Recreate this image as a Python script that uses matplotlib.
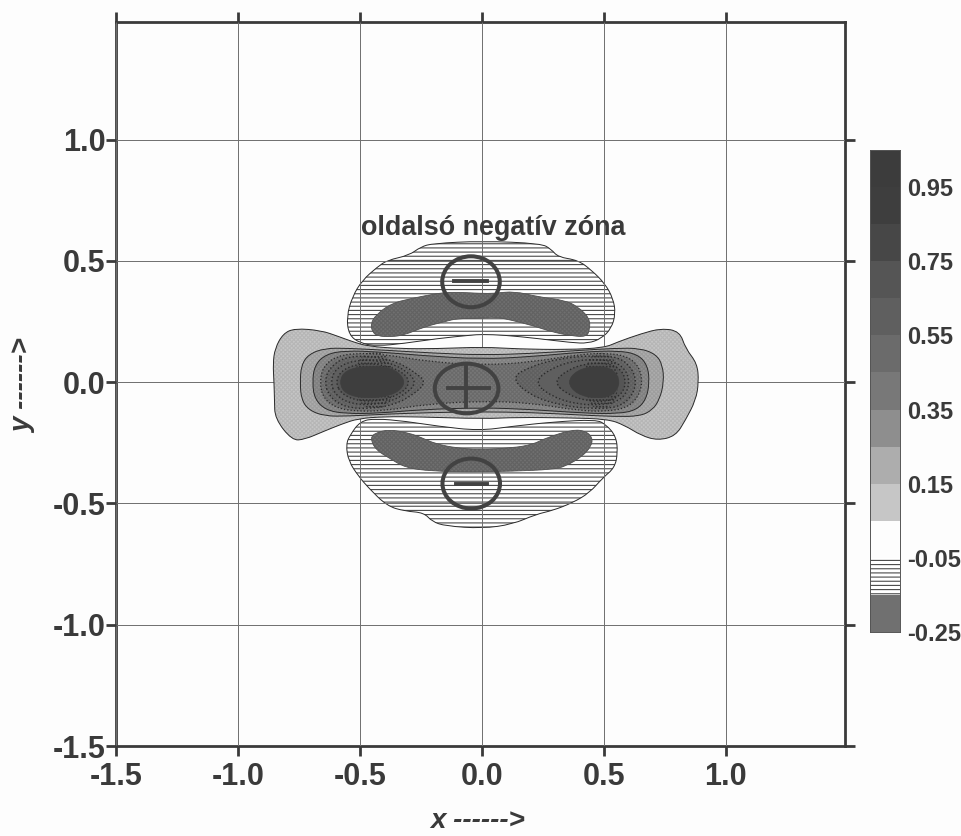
import numpy as np
import matplotlib
matplotlib.use('Agg')
import matplotlib.pyplot as plt
from matplotlib.patches import Ellipse, PathPatch
from matplotlib.path import Path

plt.rcParams['font.family'] = ['Liberation Sans', 'DejaVu Sans']
plt.rcParams['hatch.linewidth'] = 0.8

INK = '#3a3a3a'

# contour levels
levels = [-0.25, -0.15, -0.05, 0.05, 0.15, 0.25, 0.35, 0.45, 0.55, 0.65, 0.75, 0.85, 0.95, 1.05]
greys = ['#707070', '#ffffff', '#fdfdfd', '#c6c6c6', '#adadad', '#8e8e8e', '#787878',
         '#6b6b6b', '#5f5f5f', '#555555', '#474747', '#3e3e3e', '#3c3c3c']
bar_labels = [-0.25, -0.05, 0.15, 0.35, 0.55, 0.75, 0.95]

x_ticks = [-1.5, -1.0, -0.5, 0.0, 0.5, 1.0]
y_ticks = [-1.5, -1.0, -0.5, 0.0, 0.5, 1.0]

# negative lobes
top_outer = [(-0.25, 0.558), (-0.20, 0.572), (0.0, 0.582), (0.244, 0.572), (0.285, 0.548), (0.313, 0.516),
             (0.395, 0.503), (0.45, 0.462), (0.505, 0.407), (0.539, 0.345), (0.549, 0.283), (0.532, 0.222),
             (0.491, 0.180), (0.436, 0.160), (0.368, 0.163), (0.230, 0.180), (0.093, 0.194), (0.0, 0.197),
             (-0.044, 0.194), (-0.181, 0.180), (-0.318, 0.160), (-0.428, 0.149), (-0.497, 0.160), (-0.545, 0.194),
             (-0.554, 0.270), (-0.531, 0.352), (-0.490, 0.420), (-0.428, 0.475), (-0.387, 0.503), (-0.298, 0.523)]
top_dark = [(-0.455, 0.242), (-0.435, 0.276), (-0.373, 0.324), (-0.291, 0.345), (-0.181, 0.366), (-0.126, 0.372),
            (-0.003, 0.366), (0.052, 0.366), (0.134, 0.375), (0.230, 0.352), (0.340, 0.338), (0.395, 0.311),
            (0.443, 0.263), (0.443, 0.215), (0.429, 0.187), (0.368, 0.191), (0.285, 0.208), (0.217, 0.231),
            (0.121, 0.256), (0.052, 0.270), (-0.003, 0.263), (-0.099, 0.263), (-0.154, 0.249), (-0.236, 0.228),
            (-0.318, 0.194), (-0.373, 0.187), (-0.428, 0.190), (-0.449, 0.208)]
bottom_outer = [(-0.498, -0.161), (-0.436, -0.150), (-0.313, -0.161), (-0.176, -0.182), (-0.011, -0.200),
                (0.126, -0.182), (0.291, -0.164), (0.469, -0.154), (0.510, -0.175), (0.551, -0.223), (0.558, -0.291),
                (0.545, -0.353), (0.497, -0.394), (0.442, -0.456), (0.373, -0.497), (0.291, -0.529), (0.222, -0.545),
                (0.126, -0.586), (0.003, -0.603), (-0.148, -0.593), (-0.203, -0.575), (-0.237, -0.538), (-0.313, -0.532),
                (-0.388, -0.511), (-0.464, -0.436), (-0.505, -0.388), (-0.546, -0.326), (-0.557, -0.257), (-0.539, -0.216)]
bottom_dark = [(-0.457, -0.230), (-0.436, -0.209), (-0.381, -0.195), (-0.299, -0.209), (-0.244, -0.230),
               (-0.189, -0.254), (-0.107, -0.271), (-0.011, -0.278), (0.126, -0.271), (0.209, -0.257), (0.263, -0.230),
               (0.373, -0.195), (0.428, -0.202), (0.455, -0.230), (0.449, -0.264), (0.414, -0.305), (0.346, -0.346),
               (0.291, -0.360), (0.126, -0.367), (-0.038, -0.370), (-0.203, -0.367), (-0.313, -0.353), (-0.381, -0.312),
               (-0.436, -0.278)]

# positive contours, outermost first
pos_005 = [(0.0075, 0.145), (-0.191, 0.138), (-0.329, 0.138), (-0.466, 0.148), (-0.527, 0.166), (-0.589, 0.189),
           (-0.658, 0.213), (-0.767, 0.222), (-0.815, 0.200), (-0.848, 0.139), (-0.856, 0.077), (-0.852, 0.0),
           (-0.850, -0.074), (-0.848, -0.150), (-0.778, -0.240), (-0.726, -0.236), (-0.651, -0.204), (-0.575, -0.173),
           (-0.507, -0.150), (-0.397, -0.142), (-0.260, -0.143), (0.0075, -0.151), (0.146, -0.145), (0.352, -0.147),
           (0.516, -0.152), (0.585, -0.177), (0.654, -0.220), (0.722, -0.240), (0.795, -0.222), (0.836, -0.156),
           (0.878, -0.074), (0.890, 0.0), (0.884, 0.077), (0.836, 0.139), (0.812, 0.210), (0.736, 0.222),
           (0.654, 0.200), (0.558, 0.166), (0.503, 0.142), (0.352, 0.134), (0.146, 0.137)]
pos_015 = [(-0.745, 0), (-0.74, 0.07), (-0.71, 0.115), (-0.644, 0.14), (-0.55, 0.14), (-0.40, 0.132), (-0.2, 0.12),
           (0, 0.112), (0.2, 0.118), (0.4, 0.131), (0.55, 0.14), (0.649, 0.14), (0.715, 0.115), (0.742, 0.07),
           (0.747, 0), (0.73, -0.07), (0.70, -0.115), (0.649, -0.14), (0.55, -0.142), (0.4, -0.135), (0.2, -0.125),
           (0, -0.122), (-0.2, -0.125), (-0.4, -0.132), (-0.55, -0.14), (-0.644, -0.14), (-0.71, -0.115), (-0.74, -0.07)]
pos_025 = [(-0.695, 0), (-0.685, 0.07), (-0.64, 0.115), (-0.56, 0.13), (-0.42, 0.125), (-0.25, 0.11), (0, 0.095),
           (0.2, 0.105), (0.42, 0.125), (0.56, 0.13), (0.64, 0.115), (0.68, 0.07), (0.688, 0), (0.675, -0.07),
           (0.635, -0.115), (0.56, -0.13), (0.42, -0.128), (0.2, -0.112), (0, -0.105), (-0.25, -0.113), (-0.42, -0.128),
           (-0.56, -0.13), (-0.64, -0.115), (-0.685, -0.07)]
pos_035 = [(-0.665, 0), (-0.65, 0.065), (-0.6, 0.105), (-0.52, 0.12), (-0.40, 0.115), (-0.22, 0.085), (0, 0.07),
           (0.2, 0.082), (0.40, 0.115), (0.52, 0.12), (0.6, 0.105), (0.645, 0.065), (0.66, 0), (0.64, -0.065),
           (0.595, -0.105), (0.52, -0.12), (0.40, -0.118), (0.2, -0.085), (0, -0.078), (-0.22, -0.09), (-0.40, -0.118),
           (-0.52, -0.12), (-0.6, -0.105), (-0.65, -0.065)]
pos_045_l = [(-0.645, 0), (-0.625, 0.06), (-0.56, 0.105), (-0.45, 0.108), (-0.35, 0.085), (-0.28, 0.045), (-0.225, 0),
             (-0.28, -0.05), (-0.35, -0.09), (-0.45, -0.11), (-0.56, -0.105), (-0.625, -0.06)]
pos_045_r = [(0.12, 0.018), (0.2, 0.065), (0.32, 0.098), (0.45, 0.11), (0.56, 0.105), (0.615, 0.06), (0.635, 0),
             (0.615, -0.06), (0.56, -0.105), (0.45, -0.11), (0.32, -0.095), (0.2, -0.055)]
pos_055_l = [(-0.62, 0), (-0.6, 0.055), (-0.53, 0.09), (-0.42, 0.09), (-0.33, 0.062), (-0.26, 0), (-0.33, -0.062),
             (-0.42, -0.092), (-0.53, -0.092), (-0.6, -0.055)]
pos_055_r = [(0.215, 0), (0.28, 0.055), (0.38, 0.09), (0.5, 0.095), (0.58, 0.07), (0.61, 0), (0.58, -0.07),
             (0.5, -0.095), (0.38, -0.09), (0.28, -0.055)]
pos_065_l = [(-0.6, 0), (-0.575, 0.05), (-0.5, 0.078), (-0.4, 0.072), (-0.32, 0.04), (-0.295, 0), (-0.32, -0.04),
             (-0.4, -0.075), (-0.5, -0.08), (-0.575, -0.05)]
pos_065_r = [(0.295, 0), (0.35, 0.05), (0.43, 0.078), (0.52, 0.078), (0.575, 0.05), (0.592, 0), (0.575, -0.05),
             (0.52, -0.08), (0.43, -0.078), (0.35, -0.05)]
pos_075_l = [(-0.585, 0), (-0.56, 0.05), (-0.47, 0.068), (-0.37, 0.06), (-0.32, 0.02), (-0.32, -0.02),
             (-0.37, -0.055), (-0.47, -0.068), (-0.56, -0.05)]
pos_075_r = [(0.35, 0), (0.39, 0.05), (0.47, 0.068), (0.54, 0.055), (0.57, 0), (0.54, -0.055), (0.47, -0.068),
             (0.39, -0.05)]

# dithered dark patches over the two peaks
dither_l = [(-0.52, 0.125), (-0.36, 0.125), (-0.36, -0.11), (-0.52, -0.11)]
dither_r = [(0.42, 0.12), (0.56, 0.12), (0.56, -0.11), (0.42, -0.11)]

fig = plt.figure(figsize=(9.61, 8.36), dpi=100, facecolor='#fdfdfd')
W, H = 961.0, 836.0
ax = fig.add_axes([116 / W, 1 - 746 / H, (845 - 116) / W, (746 - 22) / H])
ax.set_facecolor('#fdfdfd')
ax.set_xlim(-1.5, 1.49)
ax.set_ylim(-1.5, 1.485)


def smooth_path(points):
    # quadratic pieces, the read points are the control points
    verts = []
    codes = []
    n = len(points)
    for i in range(n):
        p = points[i]
        q = points[(i + 1) % n]
        mid = ((p[0] + q[0]) / 2, (p[1] + q[1]) / 2)
        if i == 0:
            prev = points[-1]
            verts.append(((prev[0] + p[0]) / 2, (prev[1] + p[1]) / 2))
            codes.append(Path.MOVETO)
        verts += [p, mid]
        codes += [Path.CURVE3, Path.CURVE3]
    return Path(verts, codes)


def region(points, grey, hatch=None, hatch_col=None, line='#2a2a2a', lw=0.8, ls='-', z=2):
    path = smooth_path(points)
    ax.add_patch(PathPatch(path, facecolor=grey, edgecolor=hatch_col if hatch else grey, hatch=hatch, lw=0, zorder=z))
    ax.add_patch(PathPatch(path, facecolor='none', edgecolor=line, lw=lw, ls=ls, zorder=z + 0.1))


# stripes for -0.15..-0.05, dither look for the rest
for outer, dark in [(top_outer, top_dark), (bottom_outer, bottom_dark)]:
    region(outer, '#ffffff', hatch='----', hatch_col='#4a4a4a', lw=0.7)
    region(dark, greys[0], hatch='xxxxxxxx', hatch_col='#626262', lw=0.6, line='#555555', z=3)

region(pos_005, greys[3], hatch='xxxxxxxx', hatch_col='#b6b6b6', lw=0.7, z=4)
region(pos_015, greys[4], hatch='xxxxxxxx', hatch_col='#9e9e9e', lw=0.7, z=5)
region(pos_025, greys[5], hatch='xxxxxxxx', hatch_col='#808080', lw=0.7, z=6)
region(pos_035, greys[6], hatch='xxxxxxxx', hatch_col='#6a6a6a', lw=0.9, ls=':', z=7)
for pts in (pos_045_l, pos_045_r):
    region(pts, greys[7], hatch='xxxxxxxx', hatch_col='#5f5f5f', lw=1.0, ls=':', z=8)
for pts in (pos_055_l, pos_055_r):
    region(pts, greys[8], lw=1.0, ls=':', z=9)
for pts in (pos_065_l, pos_065_r):
    region(pts, greys[9], lw=1.0, ls=':', z=10)
for pts in (dither_l, dither_r):
    ax.add_patch(PathPatch(smooth_path(pts), facecolor='none', edgecolor='#2e2e2e', hatch='.....', lw=0, zorder=10.5))
for pts in (pos_075_l, pos_075_r):
    region(pts, greys[11], lw=0.5, line=greys[11], z=11)

ax.set_xticks(x_ticks)
ax.set_yticks(y_ticks)
ax.set_xticklabels(['%.1f' % v for v in x_ticks], fontsize=22, fontweight='bold', color=INK)
ax.set_yticklabels(['%.1f' % v for v in y_ticks], fontsize=22, fontweight='bold', color=INK)
ax.tick_params(axis='both', which='both', direction='out', length=7.5, width=2, color=INK,
               top=True, right=True)
ax.tick_params(axis='x', pad=4)
ax.tick_params(axis='y', pad=0)
ax.grid(True, color='#6e6e6e', lw=0.7, zorder=20)
ax.set_axisbelow(False)
for s in ax.spines.values():
    s.set_linewidth(2)
    s.set_color(INK)

# hand-drawn marks on the figure
marks = [(-0.044, 0.414, 0.236, 0.210), (-0.062, -0.026, 0.261, 0.205), (-0.043, -0.418, 0.236, 0.206)]
for cx, cy, w, h in marks:
    ax.add_patch(Ellipse((cx, cy), w, h, fill=False, ec='#424242', lw=2.9, zorder=25))
ax.plot([-0.112, 0.022], [0.418, 0.418], color='#424242', lw=2.8, zorder=25)
ax.plot([-0.107, 0.023], [-0.419, -0.419], color='#424242', lw=2.8, zorder=25)
ax.plot([-0.139, 0.028], [-0.023, -0.023], color='#424242', lw=2.8, zorder=25)
ax.plot([-0.063, -0.063], [0.063, -0.101], color='#424242', lw=2.8, zorder=25)

ax.text(-0.496, 0.605, 'oldalsó negatív zóna', fontsize=19.4, fontweight='bold', color=INK,
        ha='left', va='baseline', zorder=26)

fig.text(478 / W, 1 - 821 / H, 'x ------>', fontsize=20, fontweight='bold', fontstyle='italic', color=INK,
         ha='center', va='center')
fig.text(23 / W, 1 - 386 / H, 'y ------>', fontsize=20, fontweight='bold', fontstyle='italic', color=INK,
         ha='center', va='center', rotation=90)

# colour bar
cax = fig.add_axes([869.5 / W, 1 - 632 / H, 30.5 / W, (632 - 150) / H])
heights = np.diff(levels)
cax.bar([0] * len(greys), heights, bottom=levels[:-1], width=1, align='center', color=greys, lw=0)
cax.bar([0], [heights[1]], bottom=[levels[1]], width=1, facecolor='#ffffff', edgecolor='#4a4a4a', hatch='----', lw=0)
cax.set_xlim(-0.5, 0.5)
cax.set_ylim(levels[0], levels[-1])
cax.set_xticks([])
cax.yaxis.tick_right()
cax.set_yticks(bar_labels)
cax.set_yticklabels(['%.2f' % v for v in bar_labels], fontsize=17, fontweight='bold', color=INK)
cax.tick_params(axis='y', length=0, pad=5)
for s in cax.spines.values():
    s.set_linewidth(0.7)
    s.set_color('#555555')

fig.savefig('out.png', dpi=100, facecolor=fig.get_facecolor())
